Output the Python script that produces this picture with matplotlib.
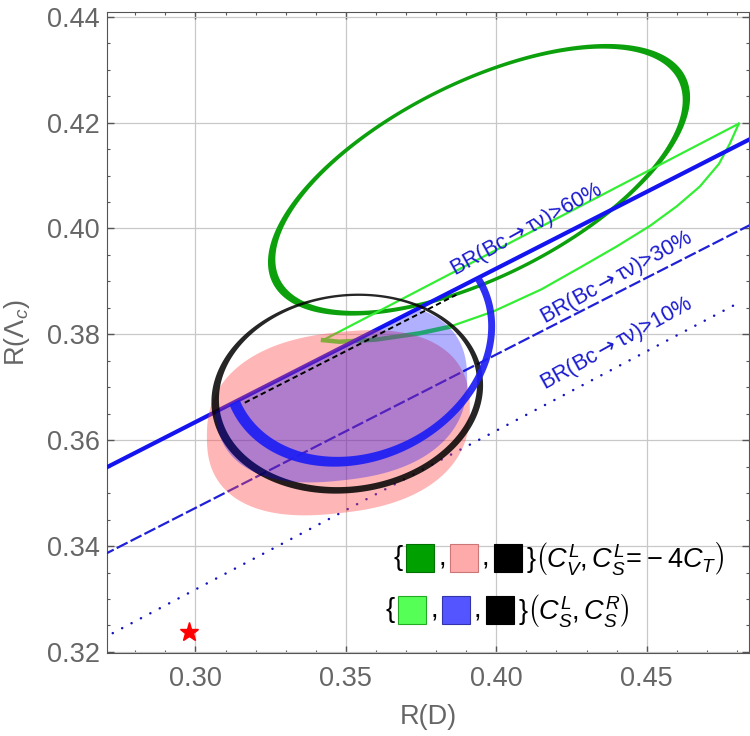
import numpy as np
import matplotlib
matplotlib.use("Agg")
import matplotlib.pyplot as plt
from matplotlib.patches import Rectangle, Polygon, PathPatch
from matplotlib.path import Path
from matplotlib.ticker import MultipleLocator
from matplotlib.offsetbox import HPacker, TextArea, DrawingArea, AnchoredOffsetbox

plt.rcParams['font.family'] = ['Liberation Sans', 'DejaVu Sans']
plt.rcParams['mathtext.fontset'] = 'custom'
plt.rcParams['mathtext.rm'] = 'Liberation Sans'
plt.rcParams['mathtext.it'] = 'Liberation Sans:italic'
plt.rcParams['mathtext.sf'] = 'DejaVu Sans'

# axis ranges / ticks
x_range = [0.2706, 0.4840]
y_range = [0.3198, 0.4409]
x_ticks = [0.30, 0.35, 0.40, 0.45]
x_tick_labels = ['0.30', '0.35', '0.40', '0.45']
y_ticks = [0.32, 0.34, 0.36, 0.38, 0.40, 0.42, 0.44]
y_tick_labels = ['0.32', '0.34', '0.36', '0.38', '0.40', '0.42', '0.44']

# SM prediction
sm_point = [0.2979, 0.3237]

# BR(Bc -> tau nu) bounds:  R(Lc) = slope * R(D) + offset
br_labels = [r'BR(Bc$\mathsf{\rightarrow}$τν)>60%', r'BR(Bc$\mathsf{\rightarrow}$τν)>30%',
             r'BR(Bc$\mathsf{\rightarrow}$τν)>10%']
br_slope = [0.290, 0.290, 0.300]
br_offset = [0.27643, 0.2602, 0.2418]
br_xmax = [0.485, 0.485, 0.480]
br_label_pos = [[0.4100, 0.3998], [0.4400, 0.3907], [0.4400, 0.3782]]

# allowed regions, shape params: [cx, cy, a, b, shear, squareness]
cvl_outer = [0.39425, 0.4092, 0.07015, 0.0204, 0.222, 2.0]
cvl_inner = [0.39425, 0.4092, 0.0677, 0.0197, 0.222, 2.0]
pink_fill = [0.3475, 0.3633, 0.0437, 0.0171, 0.06, 2.4]
black_outer = [0.35045, 0.3688, 0.04515, 0.01883, 0.035, 2.0]
black_inner = [0.3507, 0.3692, 0.0429, 0.0180, 0.035, 2.0]
blue_fill = [0.3485, 0.3690, 0.0418, 0.0166, 0.06, 2.4]
blue_outer = [0.3543, 0.3775, 0.0453, 0.02213, 0.0894, 2.0]
blue_inner = [0.3549, 0.3777, 0.0424, 0.0205, 0.0894, 2.0]

# (C_S^L, C_S^R) light green band edges
lg_upper_x = [0.3424, 0.4806]
lg_upper_y = [0.3789, 0.4198]
lg_lower_x = [0.3424, 0.3478, 0.3600, 0.3745, 0.3843, 0.3989, 0.4150, 0.4290,
              0.4400, 0.4511, 0.4600, 0.4676, 0.4740, 0.4776, 0.4806]
lg_lower_y = [0.3789, 0.3786, 0.3790, 0.3802, 0.3814, 0.3843, 0.3885, 0.3930,
              0.3966, 0.4005, 0.4042, 0.4079, 0.4122, 0.4160, 0.4198]
# thin black sliver along the 60% line
sliver_x = [0.3164, 0.3867]
sliver_drop = 0.0011


def outline(p, num=600):
    cx, cy, a, b, k, n = p
    t = np.linspace(0, 2 * np.pi, num)
    c, s = np.cos(t), np.sin(t)
    fc = np.sign(c) * np.abs(c) ** (2.0 / n)
    fs = np.sign(s) * np.abs(s) ** (2.0 / n)
    return np.column_stack([cx + a * fc, cy + b * fs + k * a * fc])


def ring_path(outer, inner):
    o = outline(outer)
    i = outline(inner)[::-1]
    verts = np.concatenate([o, i])
    codes = np.full(len(verts), Path.LINETO)
    codes[0] = Path.MOVETO
    codes[len(o)] = Path.MOVETO
    return Path(verts, codes)


fig = plt.figure(figsize=(7.5, 7.36), dpi=100)
ax = fig.add_axes([0.1427, 0.1128, 0.856, 0.8709])
ax.set_xlim(x_range)
ax.set_ylim(y_range)

# clip region: below the 60% line
xs = np.array([0.2, 0.6])
below60 = Polygon([[xs[0], br_slope[0] * xs[0] + br_offset[0]],
                   [xs[1], br_slope[0] * xs[1] + br_offset[0]],
                   [xs[1], 0.2], [xs[0], 0.2]], closed=True, transform=ax.transData)

# dark green ring
ax.add_patch(PathPatch(ring_path(cvl_outer, cvl_inner), fc='#0ca00c', ec='none', zorder=2))

# light green band
ax.plot(lg_upper_x, lg_upper_y, color='#33ee33', lw=1.6, zorder=2.1)
ax.plot(lg_lower_x, lg_lower_y, color='#33ee33', lw=1.6, zorder=2.1,
        solid_joinstyle='round')
ax.plot(lg_lower_x[:5], lg_lower_y[:5], color='#33ee33', lw=3.2, zorder=2.1)

# BR lines
for i in range(3):
    xx = np.array([0.26, br_xmax[i]])
    yy = br_slope[i] * xx + br_offset[i]
    if i == 0:
        ax.plot(xx, yy, color='#1414f0', lw=3.0, zorder=3, solid_capstyle='butt')
    elif i == 1:
        ax.plot(xx, yy, color='#2020d8', lw=1.6, dashes=(5.5, 1.5), zorder=3)
    else:
        ax.plot(xx, yy, color='#1515c0', lw=1.8, dashes=(0.05, 4.2),
                dash_capstyle='round', zorder=3)
    ax.text(br_label_pos[i][0], br_label_pos[i][1], br_labels[i], color='#1a1ad0',
            fontsize=15.5, rotation=29, rotation_mode='anchor', ha='center', va='center',
            zorder=10)

# pink region
pk = outline(pink_fill)
ax.fill(pk[:, 0], pk[:, 1], color='#ff4a4a', alpha=0.4, lw=0, zorder=4)

# black ring
ax.add_patch(PathPatch(ring_path(black_outer, black_inner), fc='black', ec='none',
                       alpha=0.85, zorder=5))

# blue filled region (below the 60% line)
bf = outline(blue_fill)
p = ax.fill(bf[:, 0], bf[:, 1], color='#0000ff', alpha=0.31, lw=0, zorder=6)[0]
p.set_clip_path(below60)

# blue ring (below the 60% line)
br = PathPatch(ring_path(blue_outer, blue_inner), fc='#1e1ef5', ec='none', alpha=0.92, zorder=7)
ax.add_patch(br)
br.set_clip_path(below60)

# black sliver
sx = np.array(sliver_x)
ax.plot(sx, br_slope[0] * sx + br_offset[0] - sliver_drop, color='black', lw=1.4,
        dashes=(2.8, 1.8), zorder=8)

# SM star
ax.plot(sm_point[0], sm_point[1], marker='*', color='#ff0000', ms=14, mec='#ff0000', zorder=9)

# axes style
ax.set_xticks(x_ticks)
ax.set_xticklabels(x_tick_labels)
ax.set_yticks(y_ticks)
ax.set_yticklabels(y_tick_labels)
ax.xaxis.set_minor_locator(MultipleLocator(0.01))
ax.yaxis.set_minor_locator(MultipleLocator(0.005))
ax.tick_params(which='both', direction='in', top=True, right=True, colors='#555555',
               labelcolor='#666666')
ax.tick_params(which='major', length=5, width=1, labelsize=19.5)
ax.tick_params(axis='x', which='major', pad=9.5)
ax.tick_params(axis='y', which='major', pad=5)
ax.tick_params(which='minor', length=2.5, width=0.8)
for sp in ax.spines.values():
    sp.set_color('#555555')
ax.grid(True, which='major', color='#c8c8c8', lw=0.9)
ax.set_axisbelow(True)

ax.set_xlabel('R(D)', fontsize=19.5, color='#666666')
ax.set_ylabel(r'R($\Lambda_c$)', fontsize=19.5, color='#666666')
ax.xaxis.set_label_coords(0.5, -0.08)
ax.yaxis.set_label_coords(-0.117, 0.5)


# legend rows
def swatch(face, edge):
    da = DrawingArea(20, 20, 0, 0)
    da.add_artist(Rectangle((0, 0), 20, 20, fc=face, ec=edge, lw=0.8))
    return da


def legend_row(colors, label, anchor):
    tp = dict(fontsize=19.5, color='black')
    kids = [TextArea('{', textprops=tp)]
    for j, (fc, ec) in enumerate(colors):
        kids.append(swatch(fc, ec))
        if j < 2:
            kids.append(TextArea(',', textprops=tp))
    kids.append(TextArea('}' + label, textprops=tp))
    row = HPacker(children=kids, align='center', pad=0, sep=3)
    ab = AnchoredOffsetbox(loc='center left', child=row, pad=0, borderpad=0, frameon=False,
                           bbox_to_anchor=anchor, bbox_transform=ax.transAxes)
    ab.set_zorder(11)
    ax.add_artist(ab)


legend_row([('#00a000', '#007000'), ('#ffaaaa', '#cc7777'), ('black', 'black')],
           r'$\left(C_V^L,C_S^L\!=\!-4C_T\right)$', (0.4455, 0.148))
legend_row([('#55ff55', '#22aa22'), ('#5555ff', '#3333aa'), ('black', 'black')],
           r'$\left(C_S^L,C_S^R\right)$', (0.4330, 0.067))

fig.savefig('out.png', dpi=100)
